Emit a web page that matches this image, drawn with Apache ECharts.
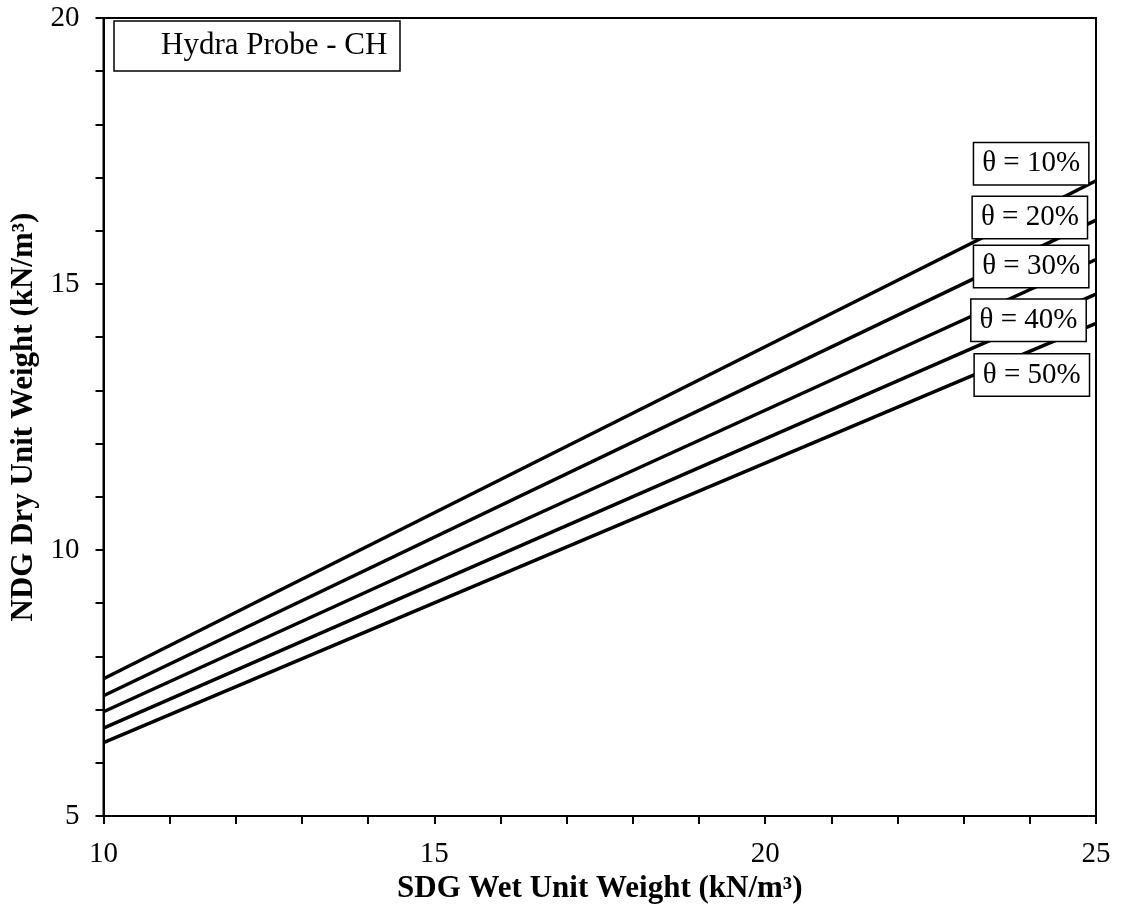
<!DOCTYPE html>
<html>
<head>
<meta charset="utf-8">
<script src="https://cdn.jsdelivr.net/npm/echarts@6/dist/echarts.min.js"></script>
<style>html,body{margin:0;padding:0;background:#fff;}#chart{width:1127px;height:915px;}</style>
</head>
<body>
<div id="chart"></div>
<script>
// SDG wet unit weight (x) end points of each straight line
const wetUnitWeight = [10, 25];
// NDG dry unit weight at those x values, per moisture content
const dry10 = [7.58, 16.94];
const dry20 = [7.26, 16.20];
const dry30 = [6.96, 15.46];
const dry40 = [6.65, 14.81];
const dry50 = [6.38, 14.26];
const seriesNames = ['θ = 10%', 'θ = 20%', 'θ = 30%', 'θ = 40%', 'θ = 50%'];
// label anchor positions (data units)
const labelX = [24.02, 24.0, 24.02, 23.98, 24.03];
const labelY = [17.26, 16.25, 15.33, 14.32, 13.29];
const xTickLabels = [10, 15, 20, 25];
const yTickLabels = [5, 10, 15, 20];
const legendText = 'Hydra Probe - CH';

const FONT = 'Liberation Serif';
const allDry = [dry10, dry20, dry30, dry40, dry50];

const chart = echarts.init(document.getElementById('chart'));
const lineSeries = allDry.map((vals, i) => ({
  name: seriesNames[i],
  type: 'line',
  data: wetUnitWeight.map((x, j) => [x, vals[j]]),
  showSymbol: false,
  symbol: 'none',
  lineStyle: { color: '#000', width: 3.5 },
  z: 2,
  silent: true
}));

const labelSeries = {
  type: 'scatter',
  symbolSize: 1,
  itemStyle: { color: '#fff', opacity: 1 },
  z: 10,
  silent: true,
  data: seriesNames.map((n, i) => ({ value: [labelX[i], labelY[i]], name: n })),
  label: {
    show: true,
    position: 'inside',
    formatter: p => p.name,
    fontFamily: FONT,
    fontSize: 29,
    color: '#000',
    opacity: 1,
    backgroundColor: '#fff',
    borderColor: '#000',
    borderWidth: 1.5,
    padding: [4, 8, 4, 8],
    lineHeight: 33
  },
  emphasis: { disabled: true }
};

chart.setOption({
  animation: false,
  backgroundColor: '#fff',
  title: {
    text: legendText,
    left: 114,
    top: 21,
    textStyle: { fontFamily: FONT, fontSize: 31, fontWeight: 'normal', color: '#000', lineHeight: 34 },
    borderColor: '#000',
    borderWidth: 1.5,
    padding: [8, 13, 8, 47],
    backgroundColor: '#fff'
  },
  grid: { left: 103.5, right: 31, top: 18, bottom: 99, show: true, borderColor: '#000', borderWidth: 2, backgroundColor: 'transparent' },
  xAxis: {
    type: 'value',
    min: 10, max: 25, interval: 1,
    name: 'SDG Wet Unit Weight (kN/m³)',
    nameLocation: 'middle',
    nameGap: 44,
    nameTextStyle: { fontFamily: FONT, fontSize: 31, fontWeight: 'bold', color: '#000' },
    axisLine: { show: true, lineStyle: { color: '#000', width: 2 } },
    axisTick: { show: true, inside: false, length: 8, lineStyle: { color: '#000', width: 2 } },
    axisLabel: { fontFamily: FONT, fontSize: 29, color: '#000', margin: 24,
      formatter: v => xTickLabels.includes(v) ? String(v) : '' },
    splitLine: { show: false }
  },
  yAxis: {
    type: 'value',
    min: 5, max: 20, interval: 1,
    name: 'NDG Dry Unit Weight (kN/m³)',
    nameLocation: 'middle',
    nameGap: 54,
    nameRotate: 90,
    nameTextStyle: { fontFamily: FONT, fontSize: 31, fontWeight: 'bold', color: '#000' },
    axisLine: { show: true, lineStyle: { color: '#000', width: 2 } },
    axisTick: { show: true, inside: false, length: 8, lineStyle: { color: '#000', width: 2 } },
    axisLabel: { fontFamily: FONT, fontSize: 29, color: '#000', margin: 24,
      formatter: v => yTickLabels.includes(v) ? String(v) : '' },
    splitLine: { show: false }
  },
  series: [...lineSeries, labelSeries]
});
</script>
</body>
</html>
